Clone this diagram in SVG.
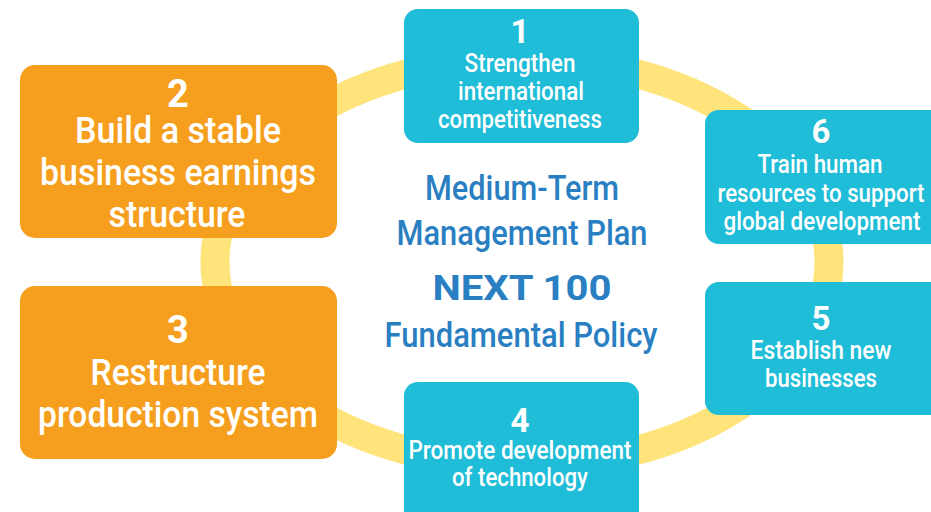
<svg xmlns="http://www.w3.org/2000/svg" width="931" height="512" viewBox="0 0 931 512">
<style>
.org{fill:#F69F1F}
.teal{fill:#1FBDD7}
text{font-family:Roboto,"Liberation Sans",Arial,sans-serif;text-anchor:middle;fill:#fff;font-weight:500}
.num{font-weight:700}
.big{font-size:37px}
.sm{font-size:25px}
.ctr{fill:#2A7FC2;font-size:35px}
</style>
<rect width="931" height="512" fill="#fff"/>
<g id="connectors">
<ellipse cx="522" cy="262" rx="307" ry="203" fill="none" stroke="#FFE37B" stroke-width="29"/>
</g>
<g id="node2">
<rect class="org" x="20" y="65" width="317" height="173" rx="15"/>
<text class="num" x="178" y="107" font-size="38">2</text>
<text class="big" x="178" y="143" textLength="206" lengthAdjust="spacingAndGlyphs">Build a stable</text>
<text class="big" x="178" y="185" textLength="276" lengthAdjust="spacingAndGlyphs">business earnings</text>
<text class="big" x="177" y="227" textLength="137" lengthAdjust="spacingAndGlyphs">structure</text>
</g>
<g id="node3">
<rect class="org" x="20" y="286" width="317" height="173" rx="15"/>
<text class="num" x="178" y="343" font-size="38">3</text>
<text class="big" x="178" y="385" textLength="175" lengthAdjust="spacingAndGlyphs">Restructure</text>
<text class="big" x="178" y="427" textLength="280" lengthAdjust="spacingAndGlyphs">production system</text>
</g>
<g id="node1">
<rect class="teal" x="404" y="9" width="235" height="134" rx="14"/>
<text class="num" x="520" y="43" font-size="33">1</text>
<text class="sm" x="520" y="72" textLength="111" lengthAdjust="spacingAndGlyphs">Strengthen</text>
<text class="sm" x="521" y="100" textLength="126" lengthAdjust="spacingAndGlyphs">international</text>
<text class="sm" x="520" y="128" textLength="164" lengthAdjust="spacingAndGlyphs">competitiveness</text>
</g>
<g id="node6">
<rect class="teal" x="705" y="110" width="250" height="134" rx="14"/>
<text class="num" x="821" y="143" font-size="33">6</text>
<text class="sm" x="820" y="173" textLength="125" lengthAdjust="spacingAndGlyphs">Train human</text>
<text class="sm" x="821" y="202" textLength="207" lengthAdjust="spacingAndGlyphs">resources to support</text>
<text class="sm" x="822" y="230" textLength="197" lengthAdjust="spacingAndGlyphs">global development</text>
</g>
<g id="node5">
<rect class="teal" x="705" y="282" width="250" height="133" rx="14"/>
<text class="num" x="821" y="330" font-size="33">5</text>
<text class="sm" x="821" y="359" textLength="141" lengthAdjust="spacingAndGlyphs">Establish new</text>
<text class="sm" x="821" y="387" textLength="112" lengthAdjust="spacingAndGlyphs">businesses</text>
</g>
<g id="node4">
<rect class="teal" x="404" y="382" width="235" height="150" rx="14"/>
<text class="num" x="520" y="432" font-size="33">4</text>
<text class="sm" x="520" y="459" textLength="223" lengthAdjust="spacingAndGlyphs">Promote development</text>
<text class="sm" x="520" y="486" textLength="136" lengthAdjust="spacingAndGlyphs">of technology</text>
</g>
<g id="center">
<text class="ctr" x="522" y="200" textLength="194" lengthAdjust="spacingAndGlyphs">Medium-Term</text>
<text class="ctr" x="522" y="245" textLength="251" lengthAdjust="spacingAndGlyphs">Management Plan</text>
<text class="ctr num" x="522" y="300" font-size="46" textLength="179" lengthAdjust="spacingAndGlyphs">NEXT 100</text>
<text class="ctr" x="521" y="347" textLength="273" lengthAdjust="spacingAndGlyphs">Fundamental Policy</text>
</g>
</svg>
